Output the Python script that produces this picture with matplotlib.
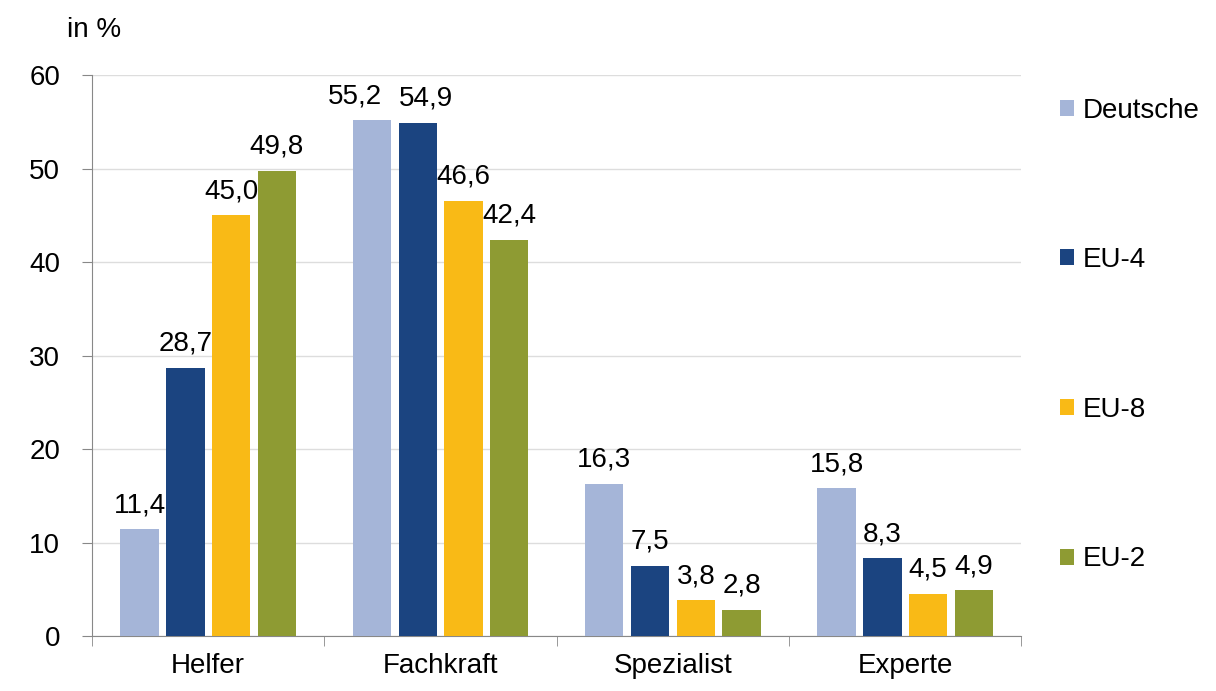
import matplotlib
matplotlib.use("Agg")
import matplotlib.pyplot as plt
import numpy as np

plt.rcParams['font.family'] = ['Liberation Sans', 'DejaVu Sans']

categories = ['Helfer', 'Fachkraft', 'Spezialist', 'Experte']
series = ['Deutsche', 'EU-4', 'EU-8', 'EU-2']
deutsche = [11.4, 55.2, 16.3, 15.8]
eu4 = [28.7, 54.9, 7.5, 8.3]
eu8 = [45.0, 46.6, 3.8, 4.5]
eu2 = [49.8, 42.4, 2.8, 4.9]
colors = ['#A5B5D8', '#1B4480', '#F9BA16', '#8E9B33']

# horizontal nudge (points) for labels that would collide: (series, category)
nudge = {(0, 1): -12, (1, 1): 6}

fig = plt.figure(figsize=(12.16, 6.91), dpi=100)
ax = fig.add_axes([0.0757, 0.0796, 0.7643, 0.8114])

x = np.arange(len(categories))
step = 0.197
width = 0.165
for i, (name, vals) in enumerate(zip(series, [deutsche, eu4, eu8, eu2])):
    pos = x + (i - 1.5) * step
    bars = ax.bar(pos, vals, width, color=colors[i], label=name, zorder=3)
    for j, (b, v) in enumerate(zip(bars, vals)):
        ax.annotate(f'{v:.1f}'.replace('.', ','),
                    (b.get_x() + b.get_width() / 2, v),
                    xytext=(nudge.get((i, j), 0), 8), textcoords='offset points',
                    ha='center', va='bottom', fontsize=20)

ax.set_xlim(-0.5, 3.5)
ax.set_ylim(0, 60)
ax.set_yticks(range(0, 61, 10))
ax.set_xticks(x)
ax.set_xticklabels(categories)
ax.set_xticks(np.arange(-0.5, 4, 1), minor=True)
ax.tick_params(axis='x', which='major', length=0, pad=12, labelsize=20)
ax.tick_params(axis='x', which='minor', length=7, color='#888888', direction='out')
ax.tick_params(axis='y', length=7, color='#888888', pad=16, labelsize=20)
ax.grid(axis='y', color='#dddddd', linewidth=1, zorder=0)
for s in ['top', 'right']:
    ax.spines[s].set_visible(False)
for s in ['left', 'bottom']:
    ax.spines[s].set_color('#888888')

fig.text(67 / 1216, 1 - 30 / 691, 'in %', fontsize=20, ha='left', va='center')

ax.legend(loc='upper left', bbox_to_anchor=(1.03, 0.98), frameon=False,
          fontsize=20, handlelength=0.5, handleheight=0.5, handletextpad=0.3,
          labelspacing=4.45, borderaxespad=0)

fig.savefig('out.png', dpi=100)
